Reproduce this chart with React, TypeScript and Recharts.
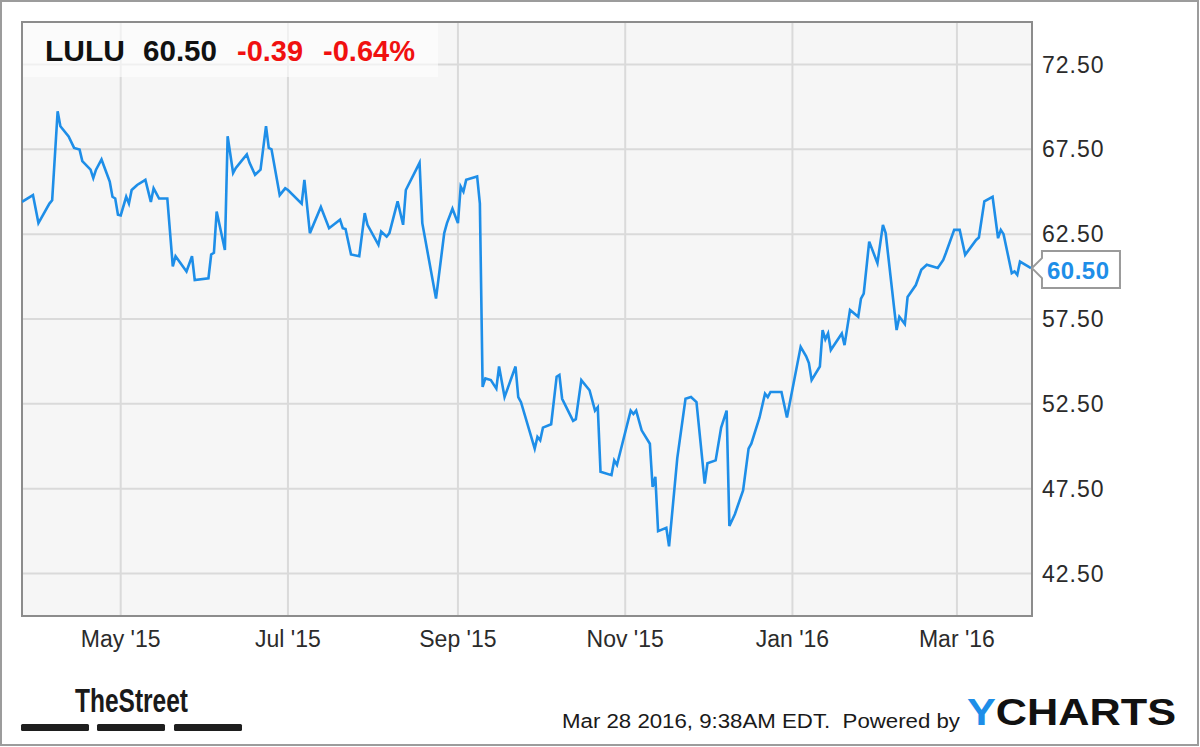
import React from "react";
import { LineChart, Line, XAxis, YAxis, CartesianGrid, ReferenceArea, ReferenceDot } from "recharts";

const dates: string[] = [
  "2015-03-26","2015-03-30","2015-04-01","2015-04-05","2015-04-06","2015-04-08","2015-04-09","2015-04-12","2015-04-14","2015-04-16",
  "2015-04-17","2015-04-20","2015-04-21","2015-04-22","2015-04-24","2015-04-27","2015-04-28","2015-04-29","2015-04-30","2015-05-01",
  "2015-05-03","2015-05-04","2015-05-05","2015-05-07","2015-05-10","2015-05-12","2015-05-13","2015-05-15","2015-05-18","2015-05-20",
  "2015-05-21","2015-05-25","2015-05-27","2015-05-28","2015-06-02","2015-06-03","2015-06-04","2015-06-05","2015-06-08","2015-06-09",
  "2015-06-11","2015-06-12","2015-06-14","2015-06-16","2015-06-17","2015-06-19","2015-06-21","2015-06-23","2015-06-24","2015-06-25",
  "2015-06-28","2015-06-30","2015-07-01","2015-07-06","2015-07-07","2015-07-09","2015-07-13","2015-07-16","2015-07-20","2015-07-21",
  "2015-07-22","2015-07-24","2015-07-27","2015-07-29","2015-07-30","2015-08-03","2015-08-04","2015-08-06","2015-08-07","2015-08-10",
  "2015-08-12","2015-08-13","2015-08-18","2015-08-19","2015-08-24","2015-08-27","2015-08-28","2015-08-30","2015-09-01","2015-09-02",
  "2015-09-03","2015-09-04","2015-09-08","2015-09-09","2015-09-10","2015-09-11","2015-09-13","2015-09-15","2015-09-16","2015-09-18",
  "2015-09-22","2015-09-23","2015-09-24","2015-09-29","2015-09-30","2015-10-01","2015-10-02","2015-10-05","2015-10-07","2015-10-08",
  "2015-10-09","2015-10-13","2015-10-14","2015-10-16","2015-10-19","2015-10-21","2015-10-22","2015-10-23","2015-10-27","2015-10-28",
  "2015-10-29","2015-11-03","2015-11-04","2015-11-05","2015-11-07","2015-11-10","2015-11-11","2015-11-12","2015-11-13","2015-11-16",
  "2015-11-17","2015-11-20","2015-11-23","2015-11-25","2015-11-27","2015-11-30","2015-12-01","2015-12-04","2015-12-06","2015-12-08",
  "2015-12-09","2015-12-11","2015-12-14","2015-12-16","2015-12-17","2015-12-20","2015-12-22","2015-12-23","2015-12-24","2015-12-28",
  "2015-12-30","2016-01-04","2016-01-06","2016-01-07","2016-01-08","2016-01-11","2016-01-12","2016-01-13","2016-01-14","2016-01-15",
  "2016-01-19","2016-01-20","2016-01-22","2016-01-25","2016-01-26","2016-01-27","2016-01-29","2016-02-01","2016-02-03","2016-02-04",
  "2016-02-08","2016-02-09","2016-02-11","2016-02-12","2016-02-15","2016-02-17","2016-02-19","2016-02-23","2016-02-25","2016-02-26",
  "2016-02-29","2016-03-02","2016-03-04","2016-03-08","2016-03-09","2016-03-11","2016-03-14","2016-03-16","2016-03-17","2016-03-18",
  "2016-03-21","2016-03-22","2016-03-23","2016-03-24","2016-03-28",
];

const prices: number[] = [
  64.4, 64.8, 63.15, 64.3, 64.5, 69.74, 68.86, 68.26, 67.58, 67.48,
  66.8, 66.3, 65.8, 66.3, 66.9, 65.6, 64.7, 64.6, 63.64, 63.6,
  64.7, 64.3, 65.1, 65.4, 65.7, 64.4, 65.2, 64.6, 64.6, 60.6,
  61.2, 60.3, 61.2, 59.8, 59.9, 61.3, 61.4, 63.83, 61.57, 68.27,
  66.1, 66.4, 66.8, 67.2, 66.7, 66.0, 66.3, 68.86, 67.58, 67.5,
  64.8, 65.2, 65.1, 64.3, 65.7, 62.56, 64.1, 62.85, 63.35, 62.85,
  62.8, 61.3, 61.2, 63.74, 63.05, 61.87, 62.65, 62.35, 62.56, 64.43,
  63.05, 65.1, 66.7, 63.15, 58.7, 62.56, 63.15, 64.0, 63.15, 65.3,
  65.0, 65.7, 65.9, 64.3, 53.5, 54.0, 53.9, 53.4, 54.7, 52.9,
  54.7, 52.9, 52.6, 49.86, 50.55, 50.35, 51.1, 51.3, 54.1, 54.2,
  52.8, 51.5, 51.6, 53.9, 53.3, 52.1, 52.3, 48.5, 48.3, 49.17,
  48.9, 52.1, 51.9, 52.1, 50.94, 50.15, 47.6, 48.2, 45.0, 45.2,
  44.1, 49.3, 52.8, 52.9, 52.6, 47.8, 49.0, 49.17, 51.1, 52.1,
  45.3, 46.0, 47.4, 49.86, 50.15, 51.7, 53.1, 52.9, 53.2, 53.2,
  51.7, 55.86, 55.3, 54.9, 53.9, 54.7, 56.85, 56.3, 56.65, 55.67,
  56.65, 55.96, 58.03, 57.63, 58.7, 59.0, 62.06, 60.79, 63.05, 62.56,
  56.85, 57.63, 57.2, 58.8, 59.5, 60.4, 60.7, 60.5, 60.98, 61.4,
  62.75, 62.75, 61.28, 62.16, 62.3, 64.43, 64.7, 62.26, 62.75, 62.5,
  60.2, 60.3, 60.1, 60.88, 60.5,
];

const xTickDates: string[] = ["2015-05-01", "2015-07-01", "2015-09-01", "2015-11-01", "2016-01-01", "2016-03-01"];
const xTickLabels: string[] = ["May '15", "Jul '15", "Sep '15", "Nov '15", "Jan '16", "Mar '16"];
const yTicks: number[] = [42.5, 47.5, 52.5, 57.5, 62.5, 67.5, 72.5];
const yDomain: number[] = [40, 75];
const xDomainDates: string[] = ["2015-03-26T00:00:00Z", "2016-03-28T09:00:00Z"];

const ticker = "LULU";
const lastPrice = "60.50";
const change = "-0.39";
const changePct = "-0.64%";
const stamp = "Mar 28 2016, 9:38AM EDT.  Powered by";

const toT = (s: string) => new Date(s).getTime();
const data = dates.map((d, i) => ({ t: toT(d), price: prices[i] }));
const xTicks = xTickDates.map(toT);
const xDomain = xDomainDates.map(toT);
const tickLabel = (v: number) => {
  const i = xTicks.indexOf(v);
  return i >= 0 ? xTickLabels[i] : "";
};

const FONT = "'Liberation Sans', Arial, Helvetica, sans-serif";
const BLUE = "#1e8ee8";

const LastLabel = (props: any) => {
  const { cx, cy } = props;
  if (cx == null || cy == null) return null;
  const d = `M${cx + 11},${cy - 10} L${cx + 1},${cy} L${cx + 11},${cy + 10} L${cx + 11},${cy + 20} L${cx + 89},${cy + 20} L${cx + 89},${cy - 17} L${cx + 11},${cy - 17} Z`;
  return (
    <g>
      <path d={d} fill="#ffffff" stroke="#9a9a9a" strokeWidth={2} />
      <text x={cx + 16} y={cy + 11} fill={BLUE} fontSize={24} fontWeight="bold" fontFamily={FONT} letterSpacing={0.5}>
        {lastPrice}
      </text>
    </g>
  );
};

export default function App() {
  const last = data[data.length - 1];
  return (
    <div style={{ position: "relative", width: 1200, height: 747, background: "#ffffff", overflow: "hidden" }}>
      <style>{"body{margin:0;}"}</style>
      <LineChart width={1200} height={747} data={data} margin={{ top: 22, right: 0, bottom: 0, left: 22 }}>
        <CartesianGrid fill="#f6f6f6" stroke="#dadada" strokeWidth={2} />
        <XAxis
          dataKey="t"
          type="number"
          domain={xDomain}
          allowDataOverflow
          ticks={xTicks}
          tickFormatter={tickLabel}
          height={131}
          tickLine={false}
          axisLine={false}
          tickMargin={9}
          tick={{ fill: "#2b2b2b", fontSize: 23, fontFamily: FONT }}
        />
        <YAxis
          orientation="right"
          type="number"
          domain={yDomain}
          ticks={yTicks}
          allowDataOverflow
          width={168}
          tickLine={false}
          axisLine={false}
          tickMargin={4}
          tickFormatter={(v: number) => v.toFixed(2)}
          tick={{ fill: "#2b2b2b", fontSize: 23, fontFamily: FONT, textAnchor: "start", letterSpacing: 1 }}
        />
        <Line
          type="linear"
          dataKey="price"
          stroke={BLUE}
          strokeWidth={2.6}
          dot={false}
          isAnimationActive={false}
        />
        <ReferenceArea
          x1={xDomain[0]}
          x2={xDomain[1]}
          y1={yDomain[0]}
          y2={yDomain[1]}
          fill="none"
          fillOpacity={0}
          stroke="#8c8c8c"
          strokeWidth={2}
          ifOverflow="visible"
        />
        <ReferenceDot x={last.t} y={last.price} ifOverflow="visible" shape={LastLabel} />
      </LineChart>
      <svg width={1200} height={747} style={{ position: "absolute", left: 0, top: 0, pointerEvents: "none" }}>
        <rect x={1} y={1} width={1197} height={744} fill="none" stroke="#9c9c9c" strokeWidth={2} />
        <rect x={23} y={23} width={415} height={54} fill="#ffffff" fillOpacity={0.6} />
        <g fontFamily={FONT} fontWeight="bold" fontSize={30}>
          <text x={45} y={61} fill="#111111" textLength={80} lengthAdjust="spacingAndGlyphs">{ticker}</text>
          <text x={143} y={61} fill="#111111" textLength={74} lengthAdjust="spacingAndGlyphs">{lastPrice}</text>
          <text x={237} y={61} fill="#f01010" textLength={66} lengthAdjust="spacingAndGlyphs">{change}</text>
          <text x={323} y={61} fill="#f01010" textLength={92} lengthAdjust="spacingAndGlyphs">{changePct}</text>
        </g>
        <text x={75} y={712} fontFamily={FONT} fontWeight="bold" fontSize={34} fill="#1a1a1a" textLength={113} lengthAdjust="spacingAndGlyphs">TheStreet</text>
        <rect x={21} y={724} width={68} height={7} rx={1.5} fill="#1e1e1e" />
        <rect x={97} y={724} width={68} height={7} rx={1.5} fill="#1e1e1e" />
        <rect x={174} y={724} width={68} height={7} rx={1.5} fill="#1e1e1e" />
        <text x={562} y={728} fontFamily={FONT} fontSize={20} fill="#1a1a1a" textLength={398} lengthAdjust="spacingAndGlyphs" xmlSpace="preserve">{stamp}</text>
        <text x={967} y={725} fontFamily={FONT} fontWeight="bold" fontSize={37} textLength={209} lengthAdjust="spacingAndGlyphs">
          <tspan fill={BLUE}>Y</tspan>
          <tspan fill="#111111">CHARTS</tspan>
        </text>
      </svg>
    </div>
  );
}
